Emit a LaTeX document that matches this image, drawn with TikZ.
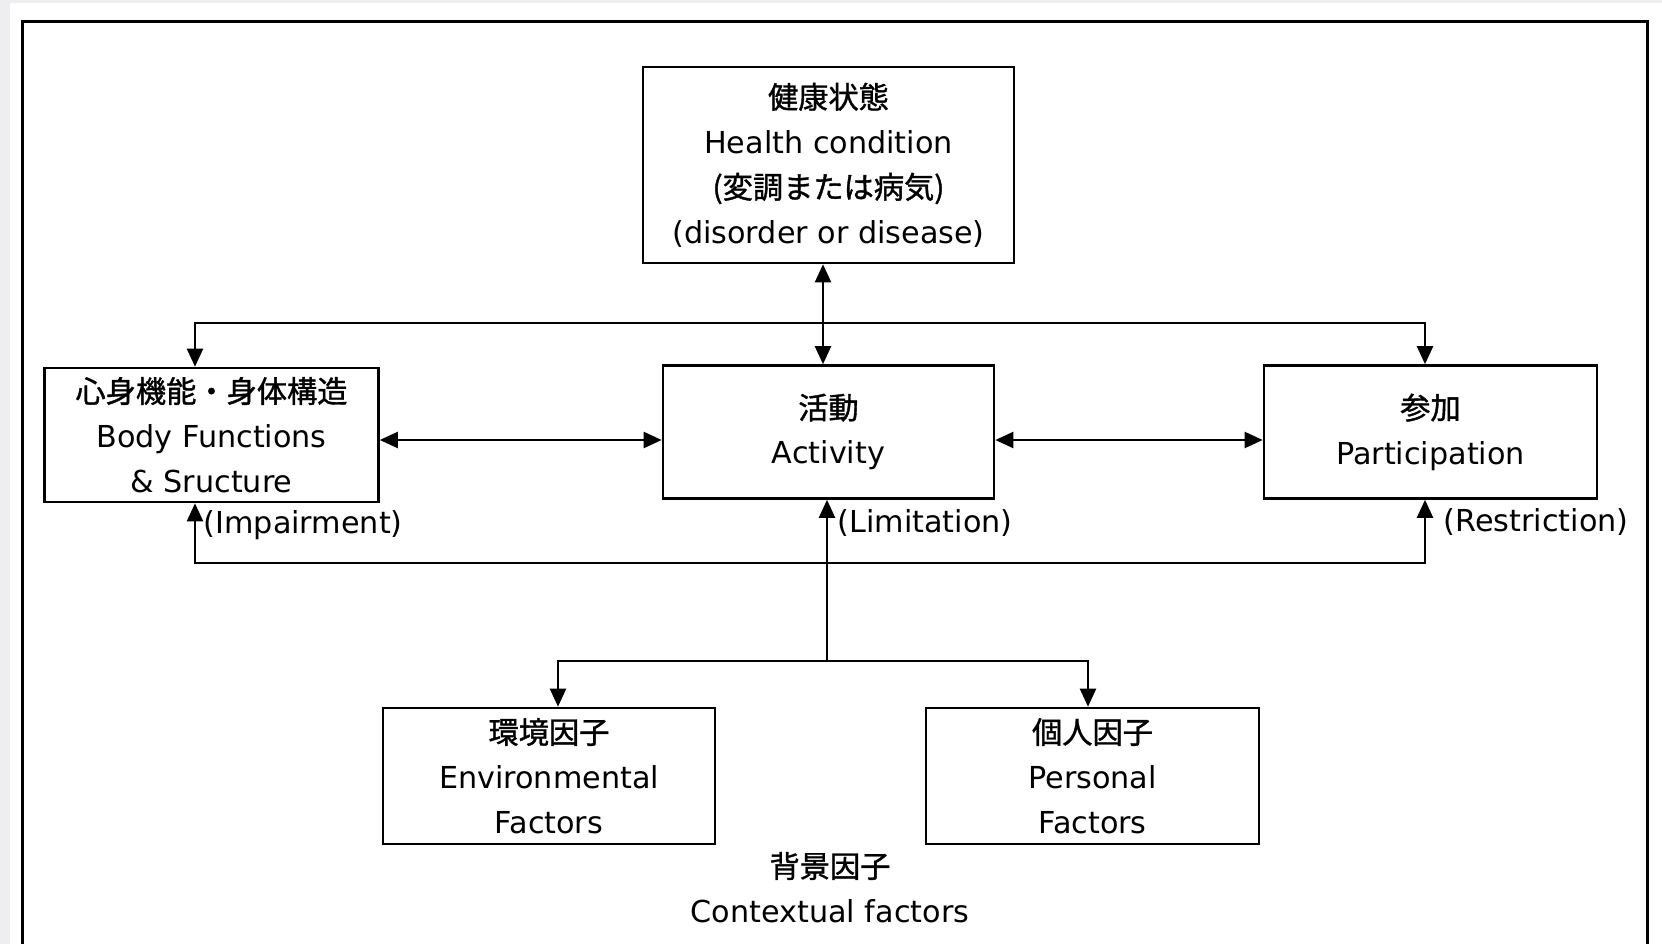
\documentclass[tikz,border=0pt]{standalone}
\usepackage{fontspec}
\setmainfont{DejaVu Sans}
\newfontfamily\jp[FakeBold=1.2]{Noto Sans CJK JP}
\usetikzlibrary{arrows.meta}
\definecolor{pagegray}{RGB}{238,237,240}
\tikzset{
  box/.style={draw, line width=0.75pt, align=center, inner sep=0pt, font=\fontsize{8.6}{12.8}\selectfont},
  conn/.style={line width=0.65pt, >={Triangle[length=0.18cm,width=0.16cm]}},
  lbl/.style={anchor=west, inner sep=0pt, font=\fontsize{8.6}{12.8}\selectfont},
  frame/.style={line width=0.85pt}
}
\begin{document}
\begin{tikzpicture}
\useasboundingbox (0,0) rectangle (16.62,-9.44);
\fill[pagegray] (0,0) rectangle (16.62,-9.44);
\fill[white] (0.10,-0.03) rectangle (16.62,-9.44);
\draw[frame] (0.225,-0.215) rectangle (16.475,-9.70);

\node (health) at (8.285,-1.65) [box, minimum width=3.71cm, minimum height=1.96cm] {{\jp 健康状態}\\Health condition\\{\jp (変調または病気)}\\(disorder or disease)};
\node (body) at (2.115,-4.35) [box, minimum width=3.34cm, minimum height=1.34cm] {{\jp 心身機能・身体構造}\\Body Functions\\\& Sructure};
\node (act) at (8.285,-4.32) [box, minimum width=3.31cm, minimum height=1.33cm] {{\jp 活動}\\Activity};
\node (part) at (14.305,-4.32) [box, minimum width=3.33cm, minimum height=1.33cm] {{\jp 参加}\\Participation};
\node (env) at (5.49,-7.76) [box, minimum width=3.32cm, minimum height=1.36cm] {{\jp 環境因子}\\Environmental\\Factors};
\node (pers) at (10.925,-7.76) [box, minimum width=3.33cm, minimum height=1.36cm] {{\jp 個人因子}\\Personal\\Factors};
\node (ctx) at (8.30,-8.875) [box, draw=none] {{\jp 背景因子}\\Contextual factors};

\node (impair) at (2.03,-5.25) [lbl] {(Impairment)};
\node (limit) at (8.37,-5.23) [lbl] {(Limitation)};
\node (restr) at (14.43,-5.22) [lbl] {(Restriction)};

% branch points
\coordinate (tl) at (1.95,-3.23);
\coordinate (tr) at (14.25,-3.23);
\coordinate (bl) at (1.95,-5.63);
\coordinate (br) at (14.25,-5.63);
\coordinate (bm) at (8.27,-5.63);
\coordinate (fm) at (8.27,-6.61);
\coordinate (fl) at (5.58,-6.61);
\coordinate (fr) at (10.88,-6.61);

\draw[conn,<->] ([xshift=-0.055cm]health.south) -- ([xshift=-0.055cm]act.north);
\draw[conn,<->] (body.north -| tl) -- (tl) -- (tr) -- (part.north -| tr);
\draw[conn,<->] ([yshift=-0.05cm]body.east) -- ([yshift=-0.05cm]body.east -| act.west);
\draw[conn,<->] ([yshift=-0.08cm]act.east) -- ([yshift=-0.08cm]part.west);
\draw[conn,<->] (body.south -| bl) -- (bl) -- (br) -- (part.south -| br);
\draw[conn,<-] (act.south -| bm) -- (fm);
\draw[conn,<->] (env.north -| fl) -- (fl) -- (fr) -- (pers.north -| fr);
\end{tikzpicture}
\end{document}
